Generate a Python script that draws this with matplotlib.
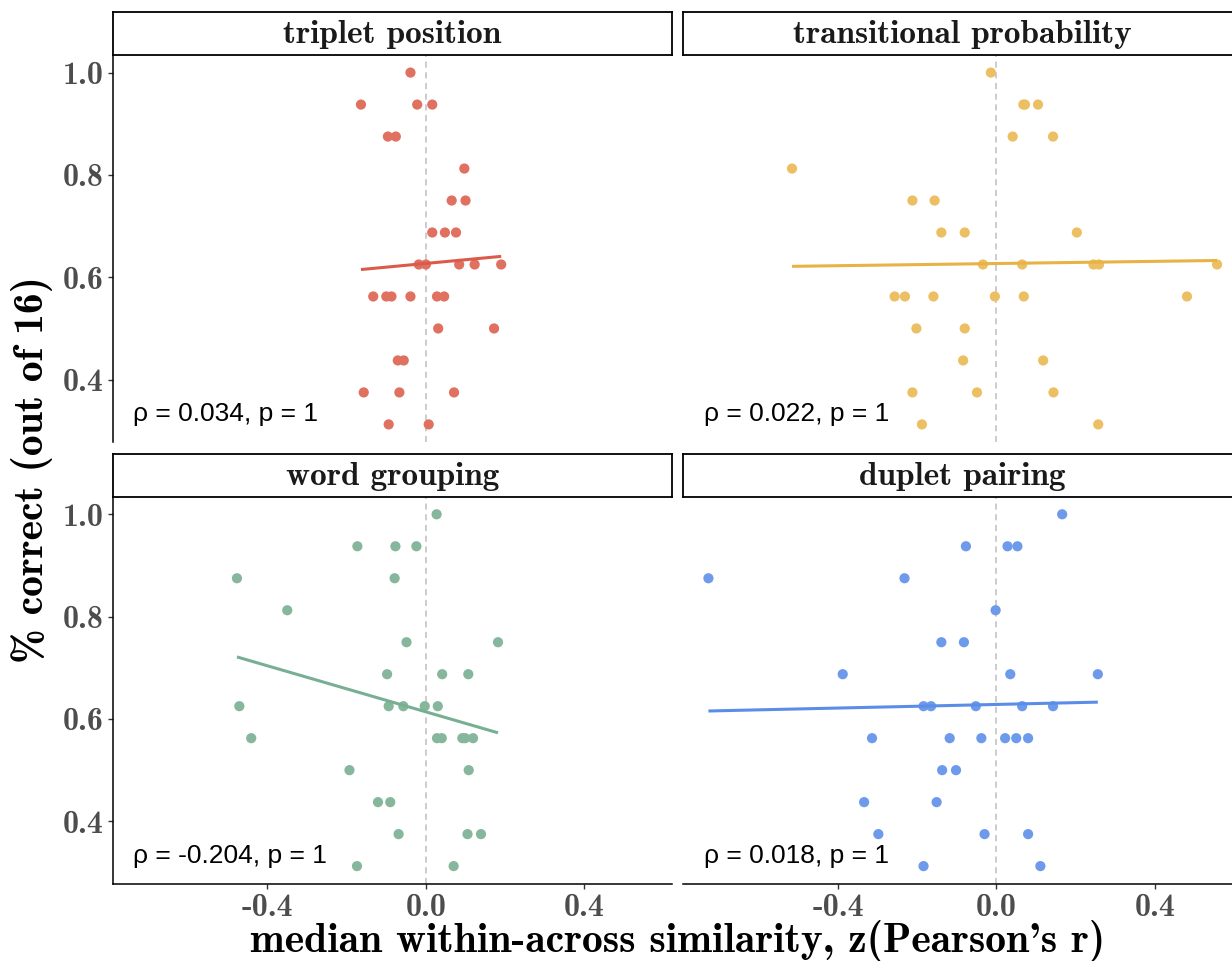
import numpy as np
import matplotlib
matplotlib.use("Agg")
import matplotlib.pyplot as plt

plt.rcParams['axes.unicode_minus'] = False

# ---------------- data ----------------
panel_titles = ["triplet position", "transitional probability", "word grouping", "duplet pairing"]
rho_labels = ["\u03c1 = 0.034, p = 1", "\u03c1 = 0.022, p = 1", "\u03c1 = -0.204, p = 1", "\u03c1 = 0.018, p = 1"]

tp_x = [-0.039, -0.164, -0.022, 0.016, -0.096, -0.076, 0.097, 0.065, 0.100,
        0.016, 0.048, 0.076, -0.018, 0.000, 0.084, 0.123, 0.190,
        -0.133, -0.100, -0.087, -0.039, 0.028, 0.046, 0.031, 0.172,
        -0.071, -0.056, -0.157, -0.067, 0.071, -0.094, 0.007]
tp_y = [1.0, 0.9375, 0.9375, 0.9375, 0.875, 0.875, 0.8125, 0.75, 0.75,
        0.6875, 0.6875, 0.6875, 0.625, 0.625, 0.625, 0.625, 0.625,
        0.5625, 0.5625, 0.5625, 0.5625, 0.5625, 0.5625, 0.5, 0.5,
        0.4375, 0.4375, 0.375, 0.375, 0.375, 0.3125, 0.3125]

tr_x = [-0.014, 0.068, 0.072, 0.105, 0.041, 0.143, -0.516, -0.212, -0.156,
        -0.139, -0.080, 0.203, -0.034, 0.065, 0.245, 0.259, 0.557,
        -0.257, -0.231, -0.159, -0.004, 0.069, 0.481, -0.202, -0.080,
        -0.084, 0.118, -0.212, -0.049, 0.144, -0.188, 0.257]
tr_y = [1.0, 0.9375, 0.9375, 0.9375, 0.875, 0.875, 0.8125, 0.75, 0.75,
        0.6875, 0.6875, 0.6875, 0.625, 0.625, 0.625, 0.625, 0.625,
        0.5625, 0.5625, 0.5625, 0.5625, 0.5625, 0.5625, 0.5, 0.5,
        0.4375, 0.4375, 0.375, 0.375, 0.375, 0.3125, 0.3125]

wg_x = [0.027, -0.173, -0.077, -0.024, -0.477, -0.079, -0.350, -0.049, 0.182,
        -0.098, 0.041, 0.107, -0.471, -0.094, -0.057, -0.003, 0.030,
        -0.441, 0.028, 0.040, 0.092, 0.099, 0.119, -0.193, 0.108,
        -0.121, -0.090, -0.069, 0.105, 0.139, -0.174, 0.070]
wg_y = [1.0, 0.9375, 0.9375, 0.9375, 0.875, 0.875, 0.8125, 0.75, 0.75,
        0.6875, 0.6875, 0.6875, 0.625, 0.625, 0.625, 0.625, 0.625,
        0.5625, 0.5625, 0.5625, 0.5625, 0.5625, 0.5625, 0.5, 0.5,
        0.4375, 0.4375, 0.375, 0.375, 0.375, 0.3125, 0.3125]

dp_x = [0.166, -0.077, 0.028, 0.053, -0.727, -0.232, -0.002, -0.139, -0.082,
        -0.388, 0.035, 0.256, -0.184, -0.165, -0.052, 0.065, 0.143,
        -0.314, -0.118, -0.038, 0.022, 0.050, 0.080, -0.137, -0.102,
        -0.334, -0.151, -0.298, -0.030, 0.080, -0.184, 0.111]
dp_y = [1.0, 0.9375, 0.9375, 0.9375, 0.875, 0.875, 0.8125, 0.75, 0.75,
        0.6875, 0.6875, 0.6875, 0.625, 0.625, 0.625, 0.625, 0.625,
        0.5625, 0.5625, 0.5625, 0.5625, 0.5625, 0.5625, 0.5, 0.5,
        0.4375, 0.4375, 0.375, 0.375, 0.375, 0.3125, 0.3125]

xs = [tp_x, tr_x, wg_x, dp_x]
ys = [tp_y, tr_y, wg_y, dp_y]
point_colors = ["#E0705F", "#EDBF63", "#86B79D", "#6E9AEB"]
line_colors = ["#DA5B4A", "#E8B245", "#78AF93", "#5A8DE8"]

x_ticks = [-0.4, 0.0, 0.4]
x_ticklabels = ["-0.4", "0.0", "0.4"]
y_ticks = [0.4, 0.6, 0.8, 1.0]
y_ticklabels = ["0.4", "0.6", "0.8", "1.0"]

xlabel = "median within-across similarity, z(Pearson's r)"
ylabel = "% correct (out of 16)"

# ---------------- layout ----------------
W, H = 1232, 961
fig = plt.figure(figsize=(W / 100, H / 100), dpi=100)

serif = "cmb10"
tick_col = "#4D4D4D"

panel_w = 559.5
panel_h = 387.0
lefts = [112.5, 683.0]
tops = [55.0, 496.7]
strip_h = 43.0

all_x = np.concatenate([np.array(v) for v in xs])
all_y = np.concatenate([np.array(v) for v in ys])
xr = all_x.max() - all_x.min()
yr = all_y.max() - all_y.min()
xlim = (all_x.min() - 0.05 * xr, all_x.max() + 0.05 * xr)
ylim = (all_y.min() - 0.05 * yr, all_y.max() + 0.05 * yr)

for i in range(4):
    r, c = divmod(i, 2)
    l = lefts[c]
    t = tops[r]
    ax = fig.add_axes([l / W, 1 - (t + panel_h) / H, panel_w / W, panel_h / H])
    x = np.array(xs[i]); y = np.array(ys[i])
    ax.axvline(0, color="#BEBEBE", lw=1.1, ls=(0, (4, 3)), zorder=1)
    ax.scatter(x, y, s=54, color=point_colors[i], edgecolors="none", zorder=3)
    b, a = np.polyfit(x, y, 1)
    xl = np.array([x.min(), x.max()])
    ax.plot(xl, a + b * xl, color=line_colors[i], lw=2.2, zorder=4, solid_capstyle="butt")
    ax.set_xlim(*xlim)
    ax.set_ylim(*ylim)
    for s in ["top", "right"]:
        ax.spines[s].set_visible(False)
    ax.spines["left"].set_visible(c == 0)
    ax.spines["bottom"].set_visible(r == 1)
    for s in ["left", "bottom"]:
        ax.spines[s].set_linewidth(1.1)
        ax.spines[s].set_color("black")
    ax.set_xticks(x_ticks)
    ax.set_yticks(y_ticks)
    if r == 1:
        ax.set_xticklabels(x_ticklabels, fontfamily=serif, fontsize=23, color=tick_col)
        ax.tick_params(axis="x", length=3.5, width=1.0, color="#333333", pad=3)
    else:
        ax.tick_params(axis="x", length=0, labelbottom=False)
    if c == 0:
        ax.set_yticklabels(y_ticklabels, fontfamily=serif, fontsize=23, color=tick_col)
        ax.tick_params(axis="y", length=3.5, width=1.0, color="#333333", pad=3)
    else:
        ax.tick_params(axis="y", length=0, labelleft=False)
    ax.text(0.037, 0.333, rho_labels[i], transform=ax.get_yaxis_transform(),
            fontsize=19, family="Liberation Sans", ha="left", va="center", color="black")

    # strip
    sax = fig.add_axes([l / W, 1 - t / H, panel_w / W, strip_h / H])
    sax.set_xticks([]); sax.set_yticks([])
    for s in sax.spines.values():
        s.set_linewidth(1.3)
        s.set_color("black")
    sax.text(0.5, 0.47, panel_titles[i], ha="center", va="center",
             fontfamily=serif, fontsize=24, color="#1A1A1A", transform=sax.transAxes)

# axis titles
fig.text((112.5 + 683.0 + panel_w) / 2 / W, 1 - 941 / H, xlabel, ha="center", va="center",
         fontfamily=serif, fontsize=30, color="black")
fig.text(32 / W, 1 - 470 / H, ylabel, ha="center", va="center", rotation=90,
         fontfamily=serif, fontsize=30, color="black")

fig.savefig("out.png", dpi=100)
